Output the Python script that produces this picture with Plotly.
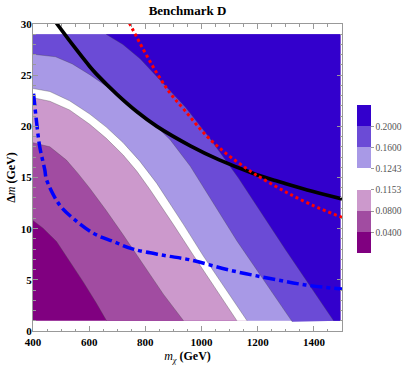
import plotly.graph_objects as go

# ---------------- data ----------------
# extent of the computed (filled) region
X_LO, X_HI = 400, 1494
Y_LO, Y_HI = 1.0, 29.0

# contour boundaries (x in GeV, y = Delta m in GeV)
b0040_x = [400, 436, 484, 531, 579, 626, 662]
b0040_y = [10.8, 10.05, 8.74, 6.8, 4.8, 2.7, 1.0]

b0080_x = [400, 460, 519, 560, 602, 660, 721, 781, 864, 936]
b0080_y = [18.4, 18.0, 16.7, 15.4, 13.95, 11.8, 9.4, 6.95, 3.6, 1.0]

b1153_x = [400, 460, 530, 602, 660, 721, 770, 817, 900, 971, 1126]
b1153_y = [22.8, 22.45, 21.6, 20.2, 18.85, 17.2, 15.6, 13.8, 10.4, 7.4, 1.0]

b1243_x = [400, 460, 530, 602, 660, 721, 780, 840, 936, 1007, 1162]
b1243_y = [23.7, 23.4, 22.5, 21.2, 19.95, 18.4, 16.6, 14.45, 10.4, 7.3, 1.0]

b1600_x = [400, 480, 540, 602, 660, 721, 817, 888, 960, 1019, 1079, 1126, 1323]
b1600_y = [27.05, 26.8, 26.1, 25.05, 23.95, 22.75, 20.6, 18.7, 16.1, 13.5, 10.9, 8.8, 0.9]

b2000_x = [660, 720, 781, 850, 942, 1030, 1130, 1300, 1470]
b2000_y = [29.0, 28.0, 26.6, 24.6, 21.9, 18.8, 15.0, 7.9, 1.0]

# overlaid curves
black_x = [483, 543, 602, 626, 698, 769, 841, 960, 1061, 1180, 1263, 1299, 1394, 1500]
black_y = [30.1, 27.9, 25.85, 25.1, 23.15, 21.45, 20.0, 18.1, 16.75, 15.45, 14.7, 14.4, 13.65, 12.9]

red_x = [743, 793, 841, 888, 942, 1013, 1085, 1180, 1216, 1299, 1394, 1500]
red_y = [30.1, 27.5, 25.2, 23.25, 21.5, 19.2, 17.4, 15.5, 14.9, 13.6, 12.3, 11.1]

blue_x = [402, 412, 424, 442, 448, 495, 543, 614, 686, 757, 864, 960, 1096, 1239, 1370, 1500]
blue_y = [23.2, 20.6, 18.0, 15.75, 14.8, 12.3, 11.0, 9.56, 8.74, 8.0, 7.4, 6.95, 5.97, 5.16, 4.5, 4.1]

# colour bands (lowest to highest) and colorbar labels
band_colors = ["#800080", "#A14CA1", "#CC99CC", "#FFFFFF", "#A899E6", "#6B4BD6", "#3300CC"]
level_labels = ["0.0400", "0.0800", "0.1153", "0.1243", "0.1600", "0.2000"]

x_ticks = [400, 600, 800, 1000, 1200, 1400]
y_ticks = [0, 5, 10, 15, 20, 25, 30]

# ---------------- figure ----------------
fig = go.Figure()

# base band
fig.add_trace(go.Scatter(
    x=[X_LO, X_HI, X_HI, X_LO], y=[Y_LO, Y_LO, Y_HI, Y_HI],
    fill="toself", fillcolor=band_colors[0], mode="lines",
    line=dict(width=0), hoverinfo="skip", showlegend=False))

boundaries = [(b0040_x, b0040_y), (b0080_x, b0080_y), (b1153_x, b1153_y),
              (b1243_x, b1243_y), (b1600_x, b1600_y), (b2000_x, b2000_y)]

for k, (bx, by) in enumerate(boundaries):
    if by[0] >= Y_HI:  # starts on the top edge
        xs = bx + [X_HI, X_HI]
        ys = by + [Y_LO, Y_HI]
    else:
        xs = bx + [X_HI, X_HI, X_LO]
        ys = by + [Y_LO, Y_HI, Y_HI]
    fig.add_trace(go.Scatter(
        x=xs, y=ys, fill="toself", fillcolor=band_colors[k + 1], mode="lines",
        line=dict(width=0), hoverinfo="skip", showlegend=False))

# thin contour lines
for bx, by in boundaries:
    fig.add_trace(go.Scatter(
        x=bx, y=by, mode="lines",
        line=dict(color="rgba(70,70,70,0.55)", width=0.6),
        hoverinfo="skip", showlegend=False))

# overlaid curves
fig.add_trace(go.Scatter(x=black_x, y=black_y, mode="lines",
                         line=dict(color="black", width=3.7, shape="spline"),
                         hoverinfo="skip", showlegend=False))
fig.add_trace(go.Scatter(x=red_x, y=red_y, mode="lines",
                         line=dict(color="#FF0000", width=3, dash="3px,3px", shape="spline"),
                         hoverinfo="skip", showlegend=False))
fig.add_trace(go.Scatter(x=blue_x, y=blue_y, mode="lines",
                         line=dict(color="#0000FF", width=3.5, dash="12px,4px,4px,4px", shape="spline"),
                         hoverinfo="skip", showlegend=False))

# colorbar (discrete bands)
n = len(band_colors)
cscale = []
for i, c in enumerate(band_colors):
    cscale.append([i / n, c])
    cscale.append([(i + 1) / n, c])

fig.add_trace(go.Scatter(
    x=[450, 450], y=[-10, -10], mode="markers",
    marker=dict(color=[0, n], cmin=0, cmax=n, colorscale=cscale, opacity=0,
                showscale=True,
                colorbar=dict(
                    thickness=14, thicknessmode="pixels",
                    len=148, lenmode="pixels",
                    x=1.0476, xanchor="left", y=0.494, yanchor="middle",
                    tickvals=list(range(1, n)), ticktext=level_labels,
                    ticks="outside", ticklen=3, tickcolor="#999",
                    tickfont=dict(family="Liberation Serif", size=9.5, color="#555"),
                    outlinewidth=0, xpad=0, ypad=0)),
    hoverinfo="skip", showlegend=False))

axis_common = dict(
    showgrid=False, zeroline=False, showline=True, linecolor="#999", linewidth=1,
    mirror="allticks", ticks="inside", ticklen=5, tickcolor="#999", tickwidth=1,
    automargin=False,
    tickfont=dict(family="Liberation Serif", size=11, color="black", weight="bold"),
)

fig.update_layout(
    width=407, height=372,
    margin=dict(l=33, r=65, t=24, b=41, autoexpand=False),
    paper_bgcolor="white", plot_bgcolor="white",
    hovermode=False,
    title=dict(text="<b>Benchmark D</b>", x=0.5, xref="paper", y=0.973, yref="container",
               yanchor="middle", automargin=False,
               font=dict(family="Liberation Serif", size=13, color="black")),
    xaxis=dict(range=[400, 1500], tickvals=x_ticks, ticklabelstandoff=1,
               minor=dict(dtick=50, tick0=400, ticks="inside", ticklen=2.5, tickcolor="#999"),
               title=dict(text="<i>m</i><sub><i>χ</i></sub><b> (GeV)</b>", standoff=4,
                          font=dict(family="Liberation Serif", size=12, color="black")),
               **axis_common),
    yaxis=dict(range=[0, 30], tickvals=y_ticks, ticklabelstandoff=-2,
               minor=dict(dtick=1, tick0=0, ticks="inside", ticklen=2.5, tickcolor="#999"),
               title=dict(text="<b>Δ</b><i>m</i><b> (GeV)</b>", standoff=2,
                          font=dict(family="Liberation Serif", size=12, color="black")),
               **axis_common),
)

fig.write_html("out.html", config={"displayModeBar": False},
               post_script="document.body.style.margin='0';")
